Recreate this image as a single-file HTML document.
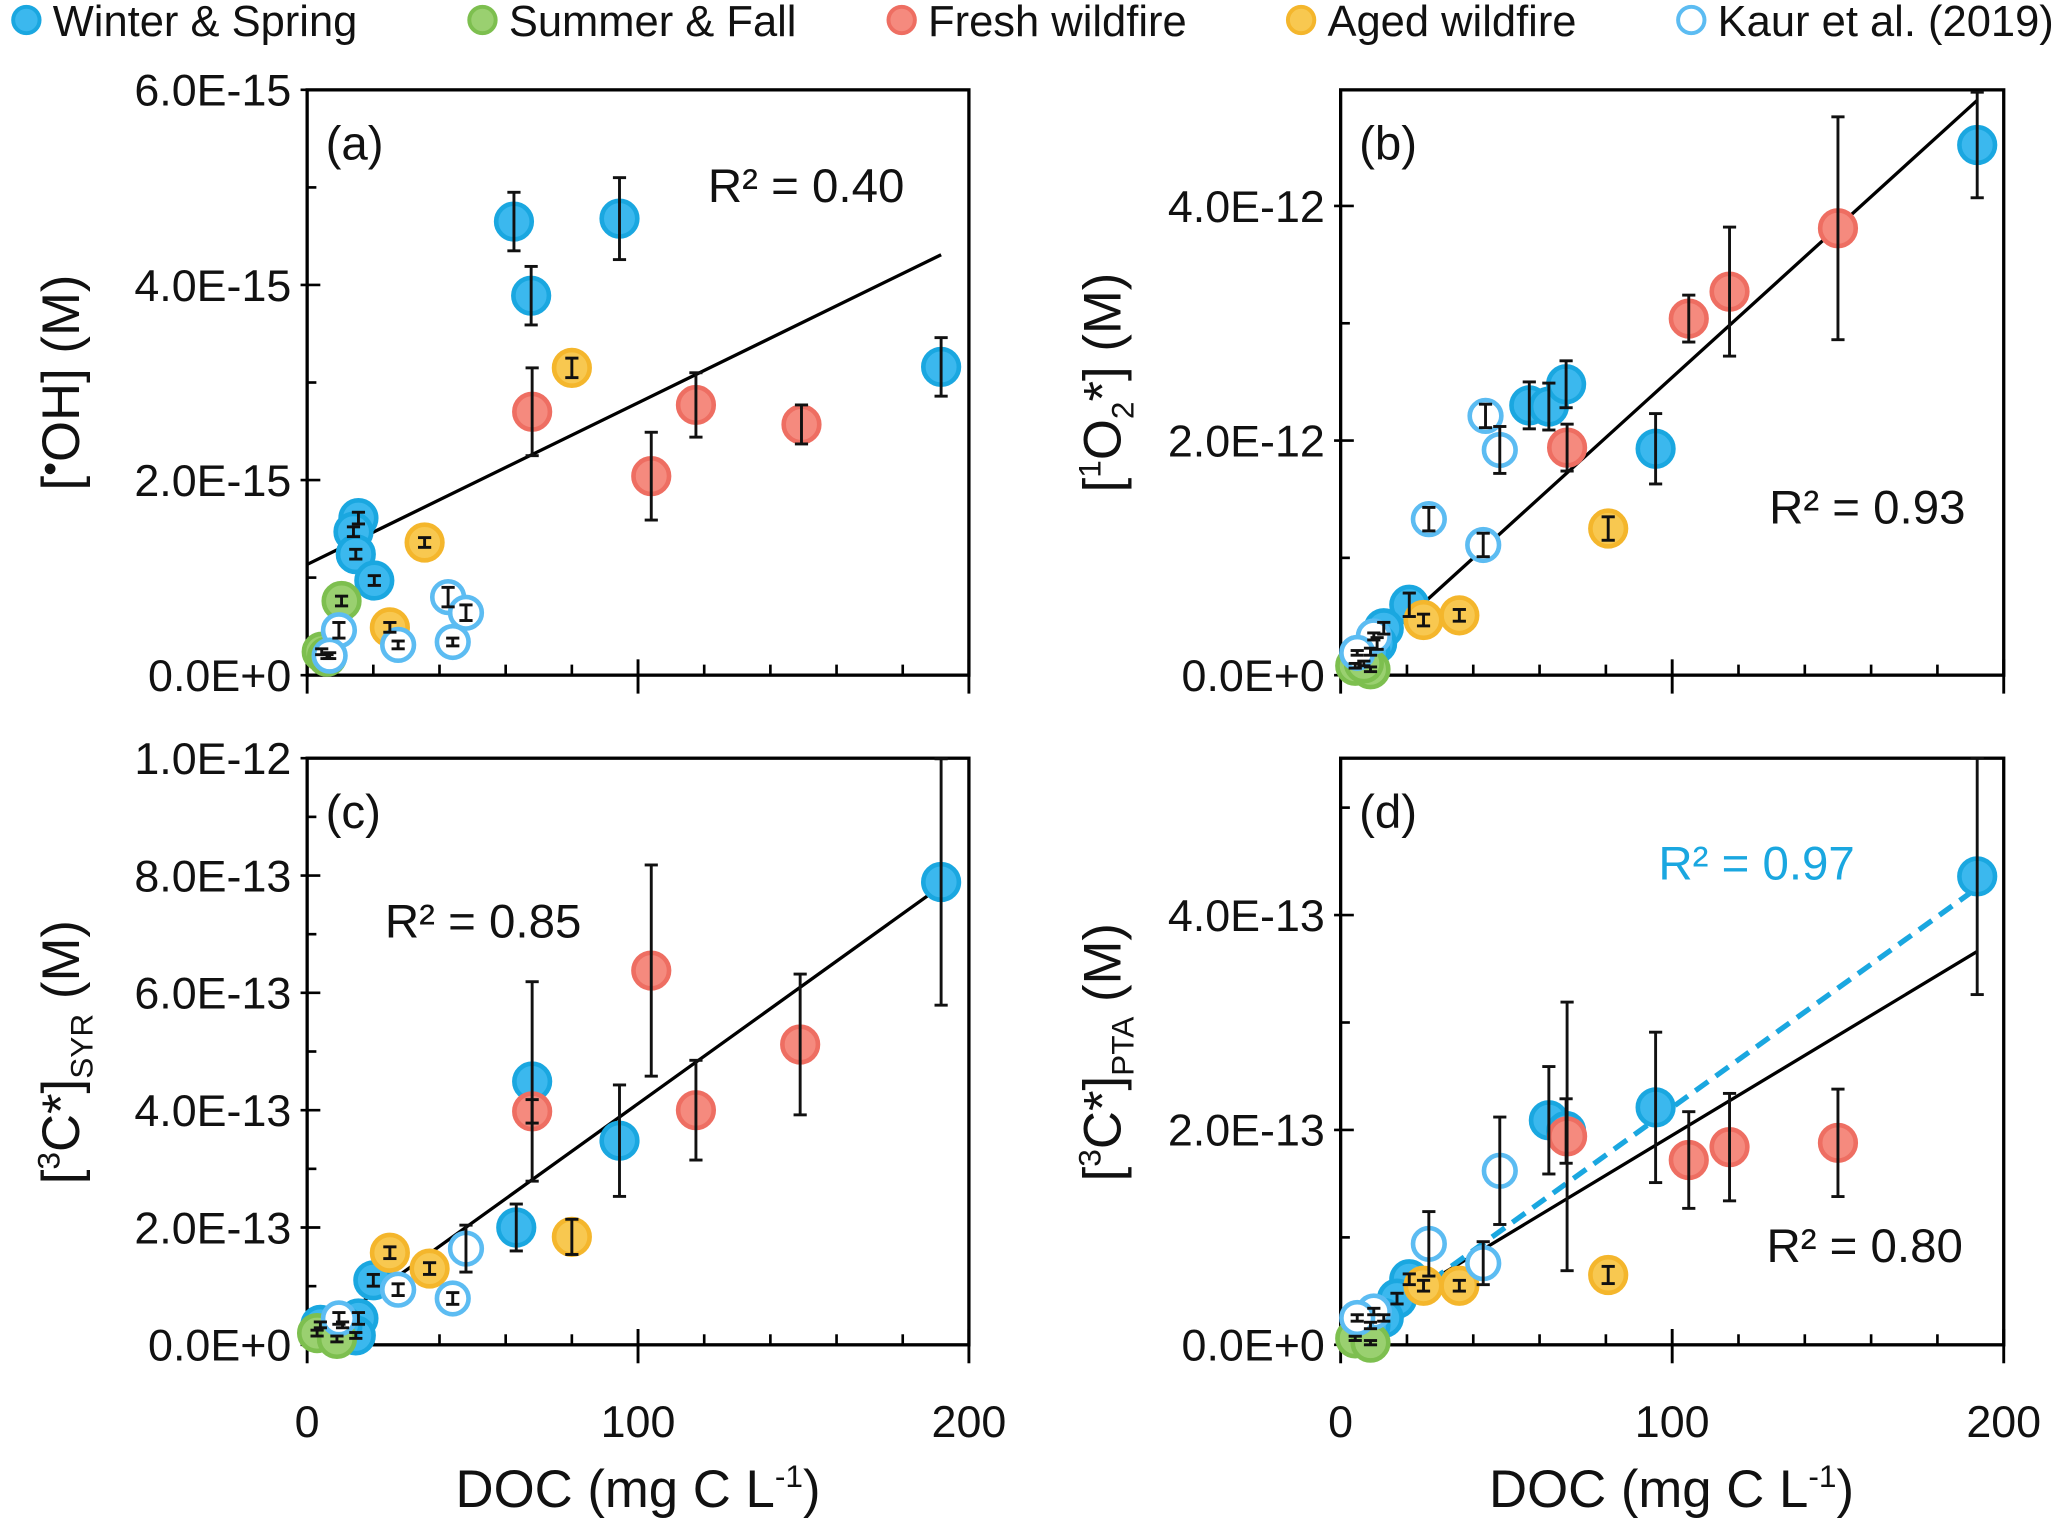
<!DOCTYPE html>
<html><head><meta charset="utf-8"><style>
html,body{margin:0;padding:0;background:#fff}
svg{display:block}
text{font-family:"Liberation Sans",sans-serif;fill:#111}
</style></head><body>
<svg id="chart" width="2067" height="1523" viewBox="0 0 1568 1155" xmlns="http://www.w3.org/2000/svg">
<g id="legend"></g>
<g id="panels"></g>
</svg>
<script>
// ---- data (DOC mg C/L, value, error) ----
const aWinterX=[62.5,94.4,67.7,191.6,15.5,14,14.7,20.3];
const aWinterY=[4.65,4.68,3.89,3.16,1.61,1.47,1.24,0.97];
const aWinterE=[0.3,0.42,0.3,0.3,0.06,0.05,0.05,0.05];
const aSummerX=[10.4,4.4,6];const aSummerY=[0.76,0.24,0.19];const aSummerE=[0.05,0.03,0.02];
const aFreshX=[68,104,117.5,149.4];const aFreshY=[2.7,2.04,2.77,2.57];const aFreshE=[0.45,0.45,0.33,0.2];
const aAgedX=[80,35.5,25];const aAgedY=[3.15,1.36,0.49];const aAgedE=[0.1,0.05,0.05];
const aKaurX=[42.6,48,27.5,44,9.6,6.8];const aKaurY=[0.8,0.64,0.31,0.34,0.46,0.2];const aKaurE=[0.1,0.08,0.04,0.04,0.08,0.03];

const bWinterX=[192,56.9,62.8,68,95,20.7,13,11,9];
const bWinterY=[4.52,2.3,2.29,2.48,1.93,0.6,0.4,0.27,0.2];
const bWinterE=[0.45,0.2,0.2,0.2,0.3,0.1,0.05,0.05,0.03];
const bSummerX=[4.4,9,7];const bSummerY=[0.08,0.05,0.1];const bSummerE=[0.02,0.02,0.02];
const bFreshX=[150,117.3,105,68.3];const bFreshY=[3.81,3.27,3.04,1.94];const bFreshE=[0.95,0.55,0.2,0.2];
const bAgedX=[80.7,35.8,25];const bAgedY=[1.25,0.51,0.47];const bAgedE=[0.1,0.05,0.05];
const bKaurX=[43.7,48,26.6,43,10,5];const bKaurY=[2.21,1.92,1.33,1.11,0.33,0.19];const bKaurE=[0.1,0.2,0.1,0.1,0.03,0.02];

const cWinterX=[191.6,68,94.4,63.2,20,15.5,14.7,10.7,4];
const cWinterY=[0.789,0.449,0.348,0.2,0.11,0.045,0.016,0.034,0.034];
const cWinterE=[0.21,0.17,0.095,0.04,0.01,0.01,0.005,0.005,0.005];
const cSummerX=[3,9];const cSummerY=[0.02,0.01];const cSummerE=[0.005,0.005];
const cFreshX=[104,149,117.5,68];const cFreshY=[0.638,0.512,0.4,0.398];const cFreshE=[0.18,0.12,0.085,0.02];
const cAgedX=[25,37,80];const cAgedY=[0.157,0.13,0.184];const cAgedE=[0.01,0.01,0.03];
const cKaurX=[48,27.5,44,9.6];const cKaurY=[0.164,0.094,0.079,0.045];const cKaurE=[0.04,0.01,0.01,0.01];

const dWinterX=[192,62.8,68,95,20.7,17,13,9];
const dWinterY=[4.36,2.09,1.99,2.21,0.61,0.43,0.25,0.18];
const dWinterE=[1.1,0.5,0.3,0.7,0.05,0.05,0.03,0.03];
const dSummerX=[4.4,9];const dSummerY=[0.06,0.02];const dSummerE=[0.02,0.02];
const dFreshX=[68.3,105,117.3,150];const dFreshY=[1.94,1.72,1.84,1.88];const dFreshE=[1.25,0.45,0.5,0.5];
const dAgedX=[80.7,35.8,25];const dAgedY=[0.65,0.55,0.55];const dAgedE=[0.08,0.05,0.05];
const dKaurX=[48,26.6,43,10,5];const dKaurY=[1.62,0.94,0.76,0.31,0.25];const dKaurE=[0.5,0.3,0.2,0.03,0.03];

const fitSlope=[0.01657,0.02567,0.00405,0.0186];
const fitIntercept=[1.135,-0.028,0.006,0.09];
const fitStart=[0,5,3,0];
const fitEnd=[191.6,192,191.6,192];
const r2Labels=["R² = 0.40","R² = 0.93","R² = 0.85","R² = 0.80"];
const dashSlope=0.0222, dashIntercept=-0.01, dashStart=15, dashEnd=192;
const yTickLabelsA=["0.0E+0","2.0E-15","4.0E-15","6.0E-15"];
const yTickLabelsB=["0.0E+0","2.0E-12","4.0E-12"];
const yTickLabelsC=["0.0E+0","2.0E-13","4.0E-13","6.0E-13","8.0E-13","1.0E-12"];
const yTickLabelsD=["0.0E+0","2.0E-13","4.0E-13"];
const xTickValues=[0,100,200];
const xMinorValues=[20,40,60,80,120,140,160,180];

const NS="http://www.w3.org/2000/svg";
function el(tag,attrs,parent){const e=document.createElementNS(NS,tag);for(const k in attrs)e.setAttribute(k,attrs[k]);parent.appendChild(e);return e;}
const COL={w:["#1aa7e0","#3bb8ee"],s:["#7dbf4f","#9ad070"],f:["#ee6e62","#f58a7e"],a:["#f4b62c","#f8c850"]};
const KAUR="#5cbcf2";

const panels=[
 {id:"a",x0:233,x1:735,y0:512,y1:68,ymax:6,yticks:yTickLabelsA,ystep:2,minor:1,xlabels:false,
  series:[["w",aWinterX,aWinterY,aWinterE],["s",aSummerX,aSummerY,aSummerE],["f",aFreshX,aFreshY,aFreshE],["a",aAgedX,aAgedY,aAgedE],["k",aKaurX,aKaurY,aKaurE]],
  r2:[537,153],tag:"(a)"},
 {id:"b",x0:1017,x1:1520,y0:512,y1:68,ymax:4.99,yticks:yTickLabelsB,ystep:2,minor:1,xlabels:false,
  series:[["w",bWinterX,bWinterY,bWinterE],["s",bSummerX,bSummerY,bSummerE],["f",bFreshX,bFreshY,bFreshE],["a",bAgedX,bAgedY,bAgedE],["k",bKaurX,bKaurY,bKaurE]],
  r2:[1342,397],tag:"(b)"},
 {id:"c",x0:233,x1:735,y0:1020,y1:575,ymax:1,yticks:yTickLabelsC,ystep:0.2,minor:0.1,xlabels:true,
  series:[["w",cWinterX,cWinterY,cWinterE],["s",cSummerX,cSummerY,cSummerE],["f",cFreshX,cFreshY,cFreshE],["a",cAgedX,cAgedY,cAgedE],["k",cKaurX,cKaurY,cKaurE]],
  r2:[292,711],tag:"(c)"},
 {id:"d",x0:1017,x1:1520,y0:1020,y1:575,ymax:5.46,yticks:yTickLabelsD,ystep:2,minor:1,xlabels:true,
  series:[["w",dWinterX,dWinterY,dWinterE],["s",dSummerX,dSummerY,dSummerE],["f",dFreshX,dFreshY,dFreshE],["a",dAgedX,dAgedY,dAgedE],["k",dKaurX,dKaurY,dKaurE]],
  r2:[1340,957],tag:"(d)"}
];

panels.forEach((p,pi)=>{
 const g=el('g',{},document.getElementById('panels'));
 
 
 const X=v=>p.x0+(p.x1-p.x0)*v/200;
 const Y=v=>p.y0-(p.y0-p.y1)*v/p.ymax;
 const frame=el('rect',{x:p.x0,y:p.y1,width:p.x1-p.x0,height:p.y0-p.y1,fill:"none",stroke:"#000","stroke-width":2.5},g);
 
 
 for(let v=0;v<=p.ymax+1e-9;v+=p.minor){
  const major=Math.abs(v/p.ystep-Math.round(v/p.ystep))<1e-6;
  el('line',{x1:p.x0-(major?5:0),x2:p.x0+(major?10:7),y1:Y(v),y2:Y(v),stroke:"#000","stroke-width":2},g);
 }
 p.yticks.forEach((lab,i)=>{
  const t=el('text',{x:p.x0-12,y:Y(i*p.ystep)+12,"text-anchor":"end","font-size":34},g);
  t.textContent=lab;
  
  
 });
 xTickValues.forEach(v=>{
  el('line',{x1:X(v),x2:X(v),y1:p.y0+14,y2:p.y0-12,stroke:"#000","stroke-width":2.2},g);
  if(p.xlabels){
   const t=el('text',{x:X(v),y:p.y0+70,"text-anchor":"middle","font-size":34},g);
   t.textContent=v;
   
   
  }
 });
 xMinorValues.forEach(v=>{
  el('line',{x1:X(v),x2:X(v),y1:p.y0,y2:p.y0-8,stroke:"#000","stroke-width":2},g);
 });
 const fl=el('line',{x1:X(fitStart[pi]),y1:Y(fitIntercept[pi]+fitSlope[pi]*fitStart[pi]),x2:X(fitEnd[pi]),y2:Y(fitIntercept[pi]+fitSlope[pi]*fitEnd[pi]),stroke:"#000","stroke-width":2.5},g);
 
 
 if(p.id==="d"){
  const dl=el('line',{x1:X(dashStart),y1:Y(dashIntercept+dashSlope*dashStart),x2:X(dashEnd),y2:Y(dashIntercept+dashSlope*dashEnd),stroke:"#1aa7e0","stroke-width":4,"stroke-dasharray":"12 7"},g);
  
  
  const bt=el('text',{x:1258,y:667,"font-size":36,style:"fill:#1aa7e0"},g);
  bt.textContent="R² = 0.97";
  
  
 }
 p.series.forEach(([k,xs,ys])=>{
  xs.forEach((xv,i)=>{
   const c=el('circle',{cx:X(xv),cy:Y(ys[i]),r:k==="k"?12:13.5,
     fill:k==="k"?"#fff":COL[k][1],stroke:k==="k"?KAUR:COL[k][0],"stroke-width":k==="k"?3.5:3.5},g);
   
   
  });
 });
 p.series.forEach(([k,xs,ys,es])=>{
  xs.forEach((xv,i)=>{
   const cx=X(xv),top=Y(ys[i]+es[i]),bot=Y(Math.max(0,ys[i]-es[i]));
   const eg=el('g',{stroke:"#111","stroke-width":2.2},g);
   
   
   el('line',{x1:cx,x2:cx,y1:top,y2:bot},eg);
   el('line',{x1:cx-5,x2:cx+5,y1:top,y2:top},eg);
   el('line',{x1:cx-5,x2:cx+5,y1:bot,y2:bot},eg);
  });
 });
 const tg=el('text',{x:p.x0+14,y:p.y1+53,"font-size":36},g);
 tg.textContent=p.tag;
 
 
 const rt=el('text',{x:p.r2[0],y:p.r2[1],"font-size":36},g);
 rt.textContent=r2Labels[pi];
 
 
});

const lg=document.getElementById('legend');
const legItems=[["w","Winter & Spring",20],["s","Summer & Fall",366],["f","Fresh wildfire",684],["a","Aged wildfire",987],["k","Kaur et al. (2019)",1283]];
legItems.forEach(([k,lab,x])=>{
 const c=el('circle',{cx:x,cy:15,r:10,fill:k==="k"?"#fff":COL[k][1],stroke:k==="k"?KAUR:COL[k][0],"stroke-width":3},lg);
 
 
 const t=el('text',{x:x+20,y:27,"font-size":33},lg);
 t.textContent=lab;
 
 
});
</script>
<svg style="position:absolute;left:0;top:0" width="2067" height="1523" viewBox="0 0 1568 1155" xmlns="http://www.w3.org/2000/svg">
<g font-family="Liberation Sans, sans-serif" font-size="40" fill="#111">
<text x="484" y="1143" text-anchor="middle">DOC (mg C L<tspan dy="-15" font-size="24">-1</tspan><tspan dy="15">)</tspan></text>
<text x="1268" y="1143" text-anchor="middle">DOC (mg C L<tspan dy="-15" font-size="24">-1</tspan><tspan dy="15">)</tspan></text>
<text transform="translate(60,290) rotate(-90)" text-anchor="middle">[<tspan dy="-12" font-size="30">•</tspan><tspan dy="12">OH] (M)</tspan></text>
<text transform="translate(850,290) rotate(-90)" text-anchor="middle">[<tspan dy="-15" font-size="24">1</tspan><tspan dy="15">O</tspan><tspan dy="10" font-size="24">2</tspan><tspan dy="-10">*] (M)</tspan></text>
<text transform="translate(60,798) rotate(-90)" text-anchor="middle">[<tspan dy="-15" font-size="24">3</tspan><tspan dy="15">C*]</tspan><tspan dy="10" font-size="24">SYR</tspan><tspan dy="-10"> (M)</tspan></text>
<text transform="translate(850,798) rotate(-90)" text-anchor="middle">[<tspan dy="-15" font-size="24">3</tspan><tspan dy="15">C*]</tspan><tspan dy="10" font-size="24">PTA</tspan><tspan dy="-10"> (M)</tspan></text>
</g></svg>
</body></html>
